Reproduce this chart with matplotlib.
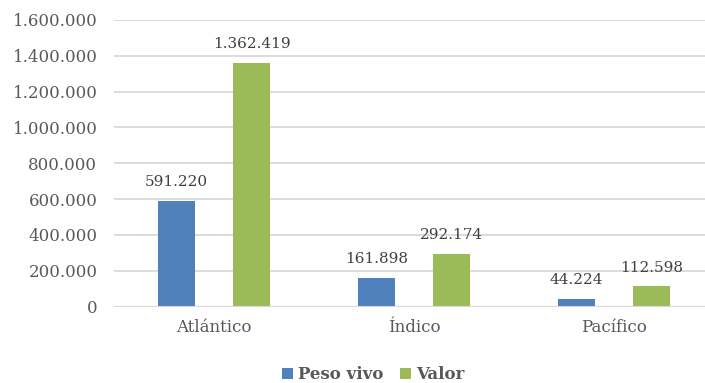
import numpy as np
import matplotlib.pyplot as plt
from matplotlib.ticker import FuncFormatter

oceanos = ["Atlántico", "Índico", "Pacífico"]
peso_vivo = [591220, 161898, 44224]
valor = [1362419, 292174, 112598]
series_names = ["Peso vivo", "Valor"]
colors = ["#4F81BD", "#9BBB59"]

def miles(v, pos=None):
    return f"{int(round(v)):,}".replace(",", ".")

plt.rcParams['font.family'] = ['DejaVu Serif']
txt = "#595959"

fig = plt.figure(figsize=(7.05, 3.83), dpi=100)
ax = fig.add_axes([114 / 705, 76.5 / 383, 600 / 705, 286.5 / 383])

x = np.arange(len(oceanos))
w = 0.185
off = 0.1875
b1 = ax.bar(x - off, peso_vivo, w, color=colors[0], label=series_names[0], zorder=3)
b2 = ax.bar(x + off, valor, w, color=colors[1], label=series_names[1], zorder=3)

for bars, vals in ((b1, peso_vivo), (b2, valor)):
    for r, v in zip(bars, vals):
        ax.annotate(miles(v), (r.get_x() + r.get_width() / 2, v),
                    xytext=(0, 8.5), textcoords="offset points",
                    ha="center", va="bottom", fontsize=11, color="#404040")

ax.set_xlim(-0.5, 2.5)
ax.set_ylim(0, 1600000)
ax.set_yticks(np.arange(0, 1600001, 200000))
ax.yaxis.set_major_formatter(FuncFormatter(miles))
ax.set_xticks(x)
ax.set_xticklabels(oceanos)
ax.tick_params(axis="both", length=0, labelsize=12, colors=txt)
ax.tick_params(axis="y", pad=12)
ax.tick_params(axis="x", pad=9)
ax.grid(axis="y", color="#D9D9D9", linewidth=1.3, zorder=0)
ax.set_axisbelow(True)
for s in ax.spines.values():
    s.set_visible(False)
ax.axhline(0, color="#D9D9D9", linewidth=1.5, zorder=4)

leg = fig.legend(loc="center", bbox_to_anchor=(373 / 705, 0.022), ncol=2,
                 frameon=False, handlelength=0.65, handleheight=0.65,
                 handletextpad=0.3, columnspacing=1.0,
                 prop={"weight": "bold", "size": 12})
for t in leg.get_texts():
    t.set_color(txt)

fig.savefig("out.png", dpi=100)
